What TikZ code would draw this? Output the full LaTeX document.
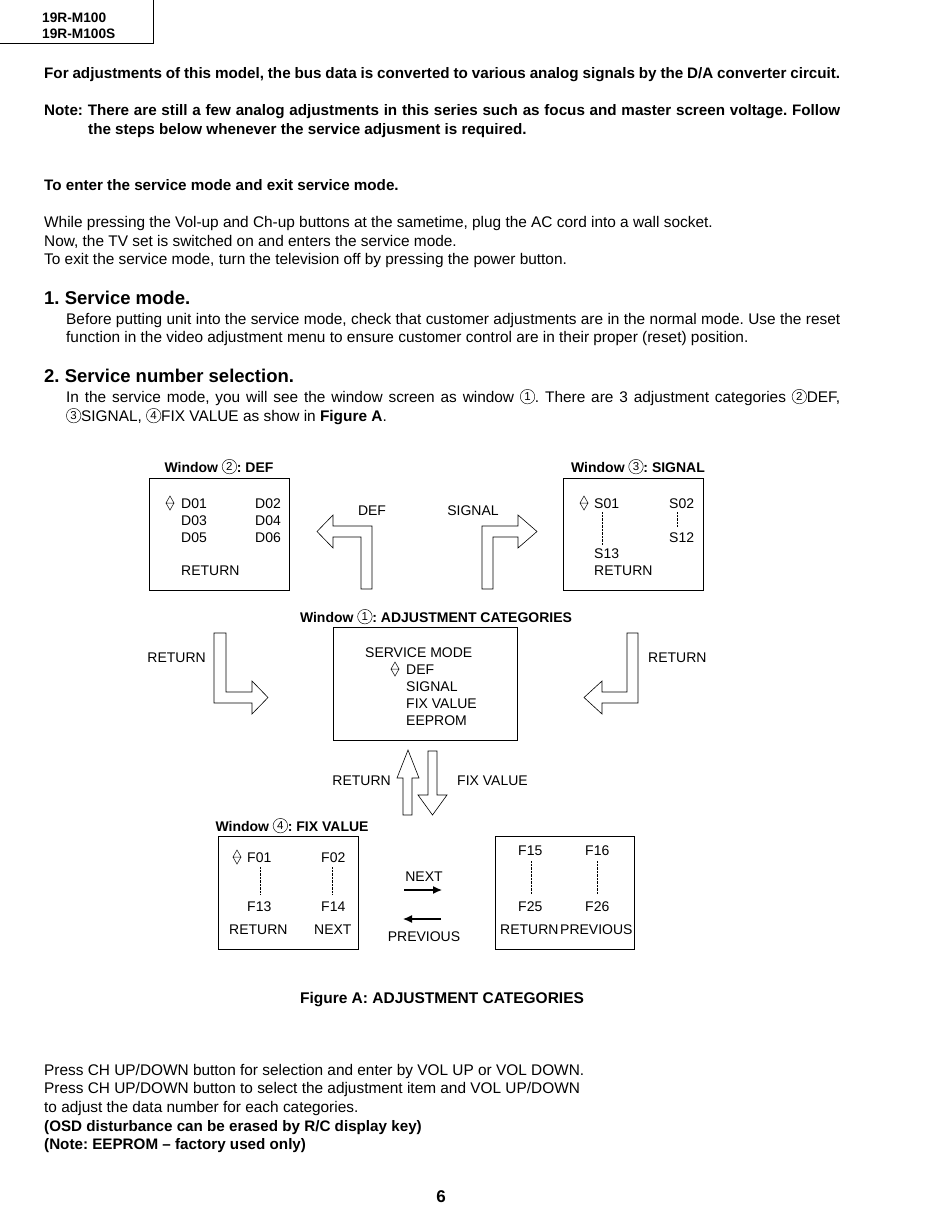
\documentclass[tikz,border=0pt]{standalone}
\usepackage{fontspec}
\setmainfont{Liberation Sans}
\usetikzlibrary{arrows.meta}
\newcommand{\cnum}[1]{\tikz[baseline={([yshift=-1.4pt]cn.base)}]\node[draw,circle,inner sep=0pt,minimum size=14.5pt,line width=0.45pt,font=\fontsize{11.5}{11.5}\selectfont\mdseries] (cn) {#1};}
\newcommand{\justline}[2]{\makebox[#1][s]{#2}}
\frenchspacing
\begin{document}
\frenchspacing
\begin{tikzpicture}[x=1pt,y=-1pt,
  txt/.style={inner sep=0pt, anchor=base west, font=\fontsize{14}{14}\selectfont},
  btxt/.style={txt, font=\fontsize{14}{14}\selectfont\bfseries},
  ptxt/.style={txt, font=\fontsize{15.4}{15.4}\selectfont},
  pbtxt/.style={txt, font=\fontsize{15.2}{15.2}\selectfont\bfseries},
  htxt/.style={txt, font=\fontsize{18.5}{18.5}\selectfont\bfseries},
  ctxt/.style={txt, anchor=base},
  cbtxt/.style={btxt, anchor=base},
  win/.style={draw, line width=0.7pt},
  blockarrow/.style={draw, line width=0.6pt, fill=white},
  dots/.style={densely dotted, line width=0.4pt},
  simplearrow/.style={-{Latex[length=9pt,width=8pt]}, line width=1.3pt},
  updown/.pic={\draw[line width=0.5pt] (-4,0) -- (0,-7) -- (4,0) -- cycle (-4,0) -- (0,7) -- (4,0);}
]
\useasboundingbox[fill=white] (0,0) rectangle (950,1229);

% header
\draw[line width=0.8pt] (0,43) -- (153,43) -- (153,0);
\node[txt, font=\fontsize{13.7}{13.7}\selectfont\bfseries] (h1) at (42,22) {19R-M100};
\node[txt, font=\fontsize{13.7}{13.7}\selectfont\bfseries] (h2) at (42,38) {19R-M100S};

% intro text
\node[pbtxt] (t1) at (44,78) {\justline{796pt}{For adjustments of this model, the bus data is converted to various analog signals by the D/A converter circuit.}};
\node[pbtxt] (t2) at (44,115) {\justline{796pt}{Note: There are still a few analog adjustments in this series such as focus and master screen voltage. Follow}};
\node[pbtxt] (t3) at (88,134) {the steps below whenever the service adjusment is required.};
\node[pbtxt] (t4) at (44,190) {To enter the service mode and exit service mode.};
\node[ptxt] (t5) at (44,227) {While pressing the Vol-up and Ch-up buttons at the sametime, plug the AC cord into a wall socket.};
\node[ptxt] (t6) at (44,246) {Now, the TV set is switched on and enters the service mode.};
\node[ptxt] (t7) at (44,264) {To exit the service mode, turn the television off by pressing the power button.};
\node[htxt] (s1) at (44,304) {1. Service mode.};
\node[ptxt] (t8) at (66,324) {\justline{774pt}{Before putting unit into the service mode, check that customer adjustments are in the normal mode. Use the reset}};
\node[ptxt] (t9) at (66,342) {function in the video adjustment menu to ensure customer control are in their proper (reset) position.};
\node[htxt] (s2) at (44,382) {2. Service number selection.};
\node[ptxt] (t10) at (66,402) {\justline{774pt}{In the service mode, you will see the window screen as window \cnum{1}. There are 3 adjustment categories \cnum{2}DEF,}};
\node[ptxt] (t11) at (66,421) {\cnum{3}SIGNAL, \cnum{4}FIX VALUE as show in \textbf{Figure A}.};

% Window 2
\node[cbtxt] (w2t) at (219,472) {Window \cnum{2}: DEF};
\draw[win] (149,478) rectangle (289,590);
\pic at (170,503) {updown};
\node[txt] (d01) at (181,508) {D01};
\node[txt] (d02) at (255,508) {D02};
\node[txt] (d03) at (181,525) {D03};
\node[txt] (d04) at (255,525) {D04};
\node[txt] (d05) at (181,542) {D05};
\node[txt] (d06) at (255,542) {D06};
\node[txt] (d07) at (181,575) {RETURN};

% Window 3
\node[cbtxt] (w3t) at (638,472) {Window \cnum{3}: SIGNAL};
\draw[win] (563,478) rectangle (703,590);
\pic at (584,503) {updown};
\node[txt] (s01) at (594,508) {S01};
\node[txt] (s02) at (669,508) {S02};
\node[txt] (s12) at (669,542) {S12};
\node[txt] (s13) at (594,558) {S13};
\node[txt] (s14) at (594,575) {RETURN};
\draw[dots] (602,512) -- (602,545);
\draw[dots] (677,512) -- (677,527);

% DEF / SIGNAL arrows
\draw[blockarrow] (361,589) -- (361,537) -- (333,537) -- (333,548) -- (317,531.5) -- (333,515) -- (333,526) -- (372,526) -- (372,589) -- cycle;
\node[ctxt] (deflab) at (372,515) {DEF};
\draw[blockarrow] (493,589) -- (493,537) -- (518,537) -- (518,548) -- (537,531.5) -- (518,515) -- (518,526) -- (482,526) -- (482,589) -- cycle;
\node[ctxt] (siglab) at (473,515) {SIGNAL};

% Window 1
\node[cbtxt] (w1t) at (436,622) {Window \cnum{1}: ADJUSTMENT CATEGORIES};
\draw[win] (333,627) rectangle (517,740);
\node[txt] (m1) at (365,657) {SERVICE MODE};
\pic at (395,669) {updown};
\node[txt] (m2) at (406,674) {DEF};
\node[txt] (m3) at (406,691) {SIGNAL};
\node[txt] (m4) at (406,708) {FIX VALUE};
\node[txt] (m5) at (406,725) {EEPROM};

% RETURN arrows
\draw[blockarrow] (214,633) -- (214,703) -- (252,703) -- (252,714) -- (268,697.5) -- (252,681) -- (252,692) -- (226,692) -- (226,633) -- cycle;
\node[txt, anchor=base east] (rl) at (206,662) {RETURN};
\draw[blockarrow] (638,633) -- (638,703) -- (602,703) -- (602,714) -- (584,697.5) -- (602,681) -- (602,692) -- (627,692) -- (627,633) -- cycle;
\node[txt] (rr) at (648,662) {RETURN};

% up / down arrows
\draw[blockarrow] (403,815) -- (403,778) -- (397,778) -- (408,750) -- (419,778) -- (412,778) -- (412,815) -- cycle;
\node[txt, anchor=base east] (rup) at (391,785) {RETURN};
\draw[blockarrow] (428,751) -- (428,795) -- (418,795) -- (432.5,815) -- (447,795) -- (437,795) -- (437,751) -- cycle;
\node[txt] (fdn) at (457,785) {FIX VALUE};

% Window 4
\node[cbtxt] (w4t) at (292,831) {Window \cnum{4}: FIX VALUE};
\draw[win] (218,836) rectangle (358,949);
\pic at (237,857) {updown};
\node[txt] (f01) at (247,862) {F01};
\node[txt] (f02) at (321,862) {F02};
\node[txt] (f13) at (247,911) {F13};
\node[txt] (f14) at (321,911) {F14};
\node[txt] (f15r) at (229,934) {RETURN};
\node[txt] (f16n) at (314,934) {NEXT};
\draw[dots] (260,867) -- (260,894);
\draw[dots] (332,867) -- (332,894);

% NEXT / PREVIOUS
\node[ctxt] (nextlab) at (424,881) {NEXT};
\coordinate (na) at (404,890);
\coordinate (nb) at (442,890);
\draw[simplearrow] (na) -- (nb);
\coordinate (pa) at (441,919);
\coordinate (pb) at (403,919);
\draw[simplearrow] (pa) -- (pb);
\node[ctxt] (prevlab) at (424,941) {PREVIOUS};

% second fix value window
\draw[win] (495,836) rectangle (634,949);
\node[txt] (g15) at (518,855) {F15};
\node[txt] (g16) at (585,855) {F16};
\node[txt] (g25) at (518,911) {F25};
\node[txt] (g26) at (585,911) {F26};
\node[txt] (g27) at (500,934) {RETURN};
\node[txt] (g28) at (560,934) {PREVIOUS};
\draw[dots] (531,861) -- (531,894);
\draw[dots] (597,861) -- (597,894);

% caption
\node[cbtxt, font=\fontsize{15.5}{15.5}\selectfont\bfseries] (cap) at (442,1003) {Figure A: ADJUSTMENT CATEGORIES};

% bottom text
\node[ptxt] (b1) at (44,1075) {Press CH UP/DOWN button for selection and enter by VOL UP or VOL DOWN.};
\node[ptxt] (b2) at (44,1093) {Press CH UP/DOWN button to select the adjustment item and VOL UP/DOWN};
\node[ptxt] (b3) at (44,1112) {to adjust the data number for each categories.};
\node[pbtxt] (b4) at (44,1131) {(OSD disturbance can be erased by R/C display key)};
\node[pbtxt] (b5) at (44,1149) {(Note: EEPROM -- factory used only)};

\node[cbtxt, font=\fontsize{17}{17}\selectfont\bfseries] (pg) at (441,1202) {6};
\end{tikzpicture}
\end{document}
